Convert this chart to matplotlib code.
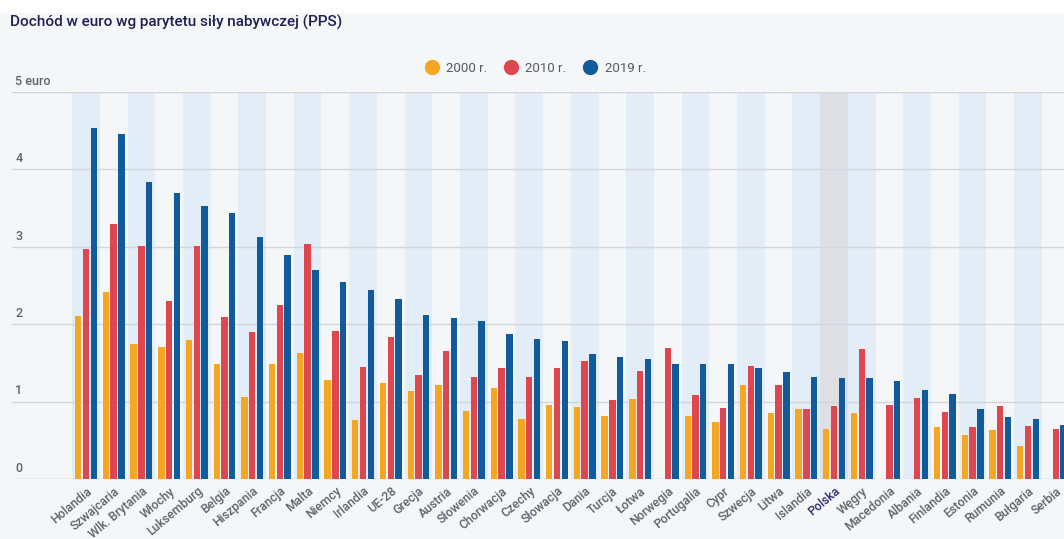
import numpy as np
import matplotlib.pyplot as plt
from matplotlib.lines import Line2D
from matplotlib import transforms

plt.rcParams['font.family'] = ['Roboto', 'DejaVu Sans']

# data
countries = ['Holandia', 'Szwajcaria', 'Wlk. Brytania', 'Włochy', 'Luksemburg', 'Belgia',
             'Hiszpania', 'Francja', 'Malta', 'Niemcy', 'Irlandia', 'UE-28', 'Grecja',
             'Austria', 'Słowenia', 'Chorwacja', 'Czechy', 'Słowacja', 'Dania', 'Turcja',
             'Łotwa', 'Norwegia', 'Portugalia', 'Cypr', 'Szwecja', 'Litwa', 'Islandia',
             'Polska', 'Węgry', 'Macedonia', 'Albania', 'Finlandia', 'Estonia', 'Rumunia',
             'Bułgaria', 'Serbia']
y2000 = [2.11, 2.42, 1.75, 1.70, 1.80, 1.49, 1.06, 1.49, 1.63, 1.28, 0.76, 1.24, 1.14,
         1.21, 0.88, 1.17, 0.78, 0.95, 0.93, 0.81, 1.03, np.nan, 0.81, 0.74, 1.21, 0.85,
         0.91, 0.64, 0.85, np.nan, np.nan, 0.67, 0.57, 0.63, 0.43, np.nan]
y2010 = [2.97, 3.30, 3.01, 2.30, 3.01, 2.09, 1.90, 2.25, 3.04, 1.91, 1.45, 1.83, 1.34,
         1.66, 1.32, 1.43, 1.32, 1.43, 1.53, 1.02, 1.40, 1.69, 1.09, 0.92, 1.46, 1.22,
         0.91, 0.94, 1.68, 0.96, 1.05, 0.87, 0.67, 0.94, 0.69, 0.65]
y2019 = [4.54, 4.46, 3.84, 3.70, 3.53, 3.44, 3.13, 2.89, 2.70, 2.55, 2.44, 2.33, 2.12,
         2.08, 2.04, 1.87, 1.81, 1.78, 1.62, 1.58, 1.55, 1.49, 1.48, 1.49, 1.43, 1.38,
         1.32, 1.30, 1.30, 1.27, 1.15, 1.10, 0.90, 0.80, 0.78, 0.70]
series = ['2000 r.', '2010 r.', '2019 r.']
yticks = [0, 1, 2, 3, 4, 5]
ytick_labels = ['0', '1', '2', '3', '4', '5 euro']
highlight = 'Polska'

c_orange = '#F5A623'
c_red = '#DE4650'
c_blue = '#115A9C'
bg = '#F5F6F8'

fig = plt.figure(figsize=(10.64, 5.39), dpi=100, facecolor=bg)
fig.patches.append(plt.Rectangle((0, 0.977), 1, 0.03, transform=fig.transFigure,
                                 color='white', zorder=0))
ax = fig.add_axes([12 / 1064, 60 / 539, 1052 / 1064, 387 / 539])
ax.set_facecolor(bg)

x = np.arange(len(countries))
# stripes
for i in x:
    if countries[i] == highlight:
        ax.axvspan(i - 0.5, i + 0.5, color='#DEDFE5', zorder=0, lw=0)
    elif i % 2 == 0:
        ax.axvspan(i - 0.5, i + 0.5, color='#E2EDF7', zorder=0, lw=0)

w = 0.23
ax.bar(x - 0.28, y2000, w, color=c_orange, zorder=3)
ax.bar(x, y2010, w, color=c_red, zorder=3)
ax.bar(x + 0.28, y2019, w, color=c_blue, zorder=3)

ax.set_xlim(-2.67, 35.3)
ax.set_ylim(0, 5)
for t in yticks:
    ax.axhline(t, color='#D3D6DC' if t else '#C9CDD3', lw=1, zorder=1)

for s in ax.spines.values():
    s.set_visible(False)
ax.set_yticks([])
ax.set_xticks(x)
ax.set_xticklabels(countries, rotation=40, ha='right', va='top',
                   rotation_mode='anchor', fontsize=8.8, color='#5E626C',
                   fontweight='medium')
ax.tick_params(axis='x', length=0, pad=4)
for lbl in ax.get_xticklabels():
    if lbl.get_text() == highlight:
        lbl.set_color('#2A2E6E')

off = transforms.offset_copy(ax.get_yaxis_transform(), fig=fig, x=0, y=3, units='points')
for t, lab in zip(yticks, ytick_labels):
    ax.text(0.003, t, lab, transform=off, fontsize=9, color='#5E626C',
            ha='left', va='bottom', fontweight='medium')

fig.text(10 / 1064, 1 - 22 / 539, 'Dochód w euro wg parytetu siły nabywczej (PPS)',
         fontsize=11, color='#1C2150', ha='left', va='center', fontweight='medium')

handles = [Line2D([], [], marker='o', ls='', markersize=10, color=c)
           for c in (c_orange, c_red, c_blue)]
fig.legend(handles, series, loc='center', bbox_to_anchor=(0.5, 1 - 68 / 539), ncol=3,
           frameon=False, fontsize=9.5, handletextpad=0.1, columnspacing=0.8,
           labelcolor='#555A66')

fig.savefig('out.png', dpi=100, facecolor=bg)
